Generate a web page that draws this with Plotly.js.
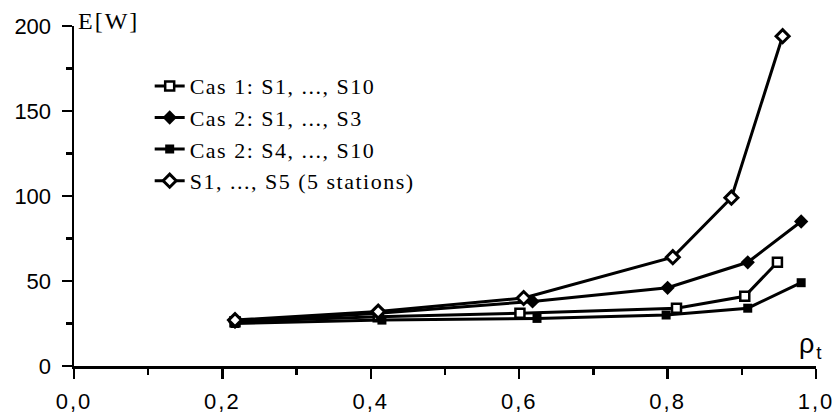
<!DOCTYPE html>
<html><head><meta charset="utf-8">
<script src="https://cdn.plot.ly/plotly-3.0.1.min.js"></script>
<style>
body{margin:0;background:#fff}#c{width:837px;height:415px}
.legendtext{letter-spacing:1.5px}
.xtick text{letter-spacing:2px}
.annotation-text{letter-spacing:2px}
</style>
</head><body><div id="c"></div>
<script>
const names = ["Cas 1: S1, ..., S10", "Cas 2: S1, ..., S3", "Cas 2: S4, ..., S10", "S1, ..., S5 (5 stations)"];
const x_cas1 = [0.217, 0.41, 0.601, 0.812, 0.904, 0.948];
const y_cas1 = [26, 29, 31, 34, 41, 61];
const x_cas2a = [0.217, 0.41, 0.618, 0.80, 0.908, 0.98];
const y_cas2a = [26, 31, 38, 46, 61, 85];
const x_cas2b = [0.217, 0.415, 0.624, 0.798, 0.908, 0.98];
const y_cas2b = [25, 27, 28, 30, 34, 49];
const x_s5 = [0.217, 0.41, 0.606, 0.807, 0.886, 0.955];
const y_s5 = [27, 32, 40, 64, 99, 194];
const xTicks = [0, 0.2, 0.4, 0.6, 0.8, 1.0];
const xTickText = ["0,0", "0,2", "0,4", "0,6", "0,8", "1,0"];
const xMinor = [0.1, 0.3, 0.5, 0.7, 0.9];
const yTicks = [0, 50, 100, 150, 200];
const yMinor = [25, 75, 125, 175];

const line = {color: '#000', width: 3};
const traces = [
  {x: x_cas1, y: y_cas1, name: names[0], mode: 'lines+markers', line: line,
   marker: {symbol: 'square', size: 9, color: '#fff', line: {color: '#000', width: 2.5}}},
  {x: x_cas2a, y: y_cas2a, name: names[1], mode: 'lines+markers', line: line,
   marker: {symbol: 'diamond', size: 11, color: '#000'}},
  {x: x_cas2b, y: y_cas2b, name: names[2], mode: 'lines+markers', line: line,
   marker: {symbol: 'square', size: 9, color: '#000'}},
  {x: x_s5, y: y_s5, name: names[3], mode: 'lines+markers', line: line,
   marker: {symbol: 'diamond', size: 10, color: '#fff', line: {color: '#000', width: 3}}}
];
const axisFont = {family: 'Liberation Sans, Arial, sans-serif', size: 22, color: '#000'};
const layout = {
  width: 837, height: 415,
  margin: {l: 74, r: 21, t: 26, b: 49},
  paper_bgcolor: '#fff', plot_bgcolor: '#fff',
  showlegend: true,
  legend: {x: 0.102, y: 0.885, xanchor: 'left', yanchor: 'top', bgcolor: 'rgba(0,0,0,0)',
           font: {family: 'Liberation Serif, serif', size: 22, color: '#000'},
           tracegroupgap: 0, itemwidth: 30},
  xaxis: {range: [0, 1.0], tickvals: xTicks, ticktext: xTickText, showgrid: false, zeroline: false,
          showline: true, linecolor: '#000', linewidth: 2.5, ticks: 'outside', ticklen: 10, tickwidth: 2.5,
          tickcolor: '#000', ticklabelstandoff: 4, ticklabeloverflow: 'allow',
          minor: {tickvals: xMinor, ticks: 'outside', ticklen: 6, tickwidth: 2.5, tickcolor: '#000'},
          tickfont: axisFont},
  yaxis: {range: [0, 200], tickvals: yTicks, showgrid: false, zeroline: false,
          showline: true, linecolor: '#000', linewidth: 2.5, ticks: 'outside', ticklen: 10, tickwidth: 2.5,
          tickcolor: '#000', ticklabelstandoff: 6, ticklabeloverflow: 'allow',
          minor: {tickvals: yMinor, ticks: 'outside', ticklen: 6, tickwidth: 2.5, tickcolor: '#000'},
          tickfont: axisFont},
  annotations: [
    {text: 'E[W]', xref: 'paper', yref: 'paper', x: 0, y: 1, xanchor: 'left', yanchor: 'middle', xshift: 2, yshift: 5,
     showarrow: false, font: {family: 'Liberation Serif, serif', size: 24, color: '#000'}},
    {text: 'ρ<sub>t</sub>', xref: 'paper', yref: 'paper', x: 1.0, y: 0.059, xanchor: 'right', yanchor: 'middle', xshift: 10,
     showarrow: false, font: {family: 'Liberation Sans, Arial, sans-serif', size: 27, color: '#000'}}
  ]
};
Plotly.newPlot('c', traces, layout, {displayModeBar: false, staticPlot: true});
</script></body></html>
